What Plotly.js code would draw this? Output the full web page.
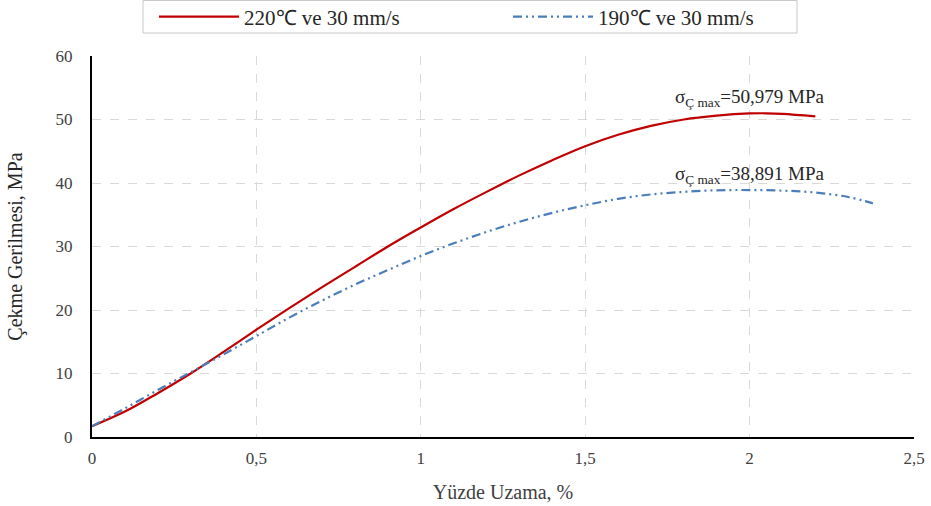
<!DOCTYPE html>
<html>
<head>
<meta charset="utf-8">
<script src="https://cdn.plot.ly/plotly-3.0.1.min.js"></script>
<style>html,body{margin:0;padding:0;background:#fff;}#chart{width:931px;height:506px;}</style>
</head>
<body>
<div id="chart"></div>
<script>
const seriesNames = ["220℃ ve 30 mm/s", "190℃ ve 30 mm/s"];
const redX = [0, 0.1, 0.2, 0.3, 0.4, 0.5, 0.6, 0.7, 0.8, 0.9, 1.0, 1.1, 1.2, 1.3, 1.4, 1.5, 1.6, 1.7, 1.8, 1.9, 2.0, 2.05, 2.1, 2.2];
const redY = [1.7, 4.0, 6.9, 10.0, 13.4, 16.9, 20.3, 23.6, 26.8, 30.0, 33.0, 35.9, 38.6, 41.2, 43.6, 45.8, 47.6, 49.0, 50.0, 50.6, 50.95, 50.979, 50.9, 50.5];
const blueX = [0, 0.1, 0.2, 0.3, 0.4, 0.5, 0.6, 0.7, 0.8, 0.9, 1.0, 1.1, 1.2, 1.3, 1.4, 1.5, 1.6, 1.7, 1.8, 1.9, 2.0, 2.1, 2.2, 2.3, 2.375];
const blueY = [1.7, 4.5, 7.4, 10.2, 13.0, 15.9, 18.8, 21.5, 24.0, 26.3, 28.5, 30.5, 32.3, 33.9, 35.3, 36.5, 37.5, 38.2, 38.6, 38.85, 38.891, 38.8, 38.5, 37.8, 36.8];
const xTickVals = [0, 0.5, 1, 1.5, 2, 2.5];
const xTickText = ["0", "0,5", "1", "1,5", "2", "2,5"];
const yTickVals = [0, 10, 20, 30, 40, 50, 60];
const annTexts = ["σ<sub>Ç max</sub>=50,979 MPa", "σ<sub>Ç max</sub>=38,891 MPa"];
const annX = [2.0, 2.0];
const annY = [53.4, 41.2];

const serif = "Liberation Serif";
const traces = [
  {x: redX, y: redY, name: seriesNames[0], mode: "lines", legend: "legend", line: {color: "#C00000", width: 2.2, shape: "spline"}},
  {x: blueX, y: blueY, name: seriesNames[1], mode: "lines", legend: "legend2", line: {color: "#4A7EBB", width: 2.2, shape: "spline", dash: "9px,4px,2px,4px,2px,4px"}}
];
const W = 931, H = 506;
const legCommon = {orientation: "h", xref: "container", yref: "container", xanchor: "left", yanchor: "middle",
  y: 1 - 17/H, bgcolor: "rgba(0,0,0,0)", borderwidth: 0, itemwidth: 80,
  font: {family: serif, size: 21, color: "#262626"}};
const layout = {
  width: W, height: H,
  margin: {l: 92, r: 17, t: 56, b: 69},
  paper_bgcolor: "#fff", plot_bgcolor: "#fff",
  font: {family: serif, color: "#404040", size: 17},
  showlegend: true,
  legend: Object.assign({}, legCommon, {x: 154/W}),
  legend2: Object.assign({}, legCommon, {x: 508/W}),
  shapes: [{type: "rect", xref: "paper", yref: "paper",
            x0: (143-92)/822, x1: (797-92)/822, y0: (437-33)/381, y1: (437-0.5)/381,
            line: {color: "#c8c8c8", width: 1}, fillcolor: "rgba(0,0,0,0)", layer: "below"}],
  xaxis: {range: [0, 2.5], tickvals: xTickVals, ticktext: xTickText,
          showgrid: true, gridcolor: "#d9d9d9", griddash: "dash", gridwidth: 1,
          showline: true, linecolor: "#000", linewidth: 2, zeroline: false, ticks: "",
          ticklabelstandoff: 5,
          tickfont: {family: serif, size: 17, color: "#404040"},
          title: {text: "Yüzde Uzama, %", font: {family: serif, size: 20, color: "#404040"}, standoff: 18}},
  yaxis: {range: [0, 60], tickvals: yTickVals,
          showgrid: true, gridcolor: "#d9d9d9", griddash: "dash", gridwidth: 1,
          showline: true, linecolor: "#000", linewidth: 2, zeroline: false, ticks: "",
          ticklabelstandoff: 14,
          tickfont: {family: serif, size: 17, color: "#404040"},
          title: {text: "Çekme Gerilmesi, MPa", font: {family: serif, size: 20, color: "#262626"}, standoff: 28}},
  annotations: annTexts.map((t, i) => ({x: annX[i], y: annY[i], xref: "x", yref: "y", text: t, showarrow: false,
           font: {family: serif, size: 19, color: "#262626"}}))
};
Plotly.newPlot("chart", traces, layout, {displayModeBar: false, staticPlot: true});
</script>
</body>
</html>
